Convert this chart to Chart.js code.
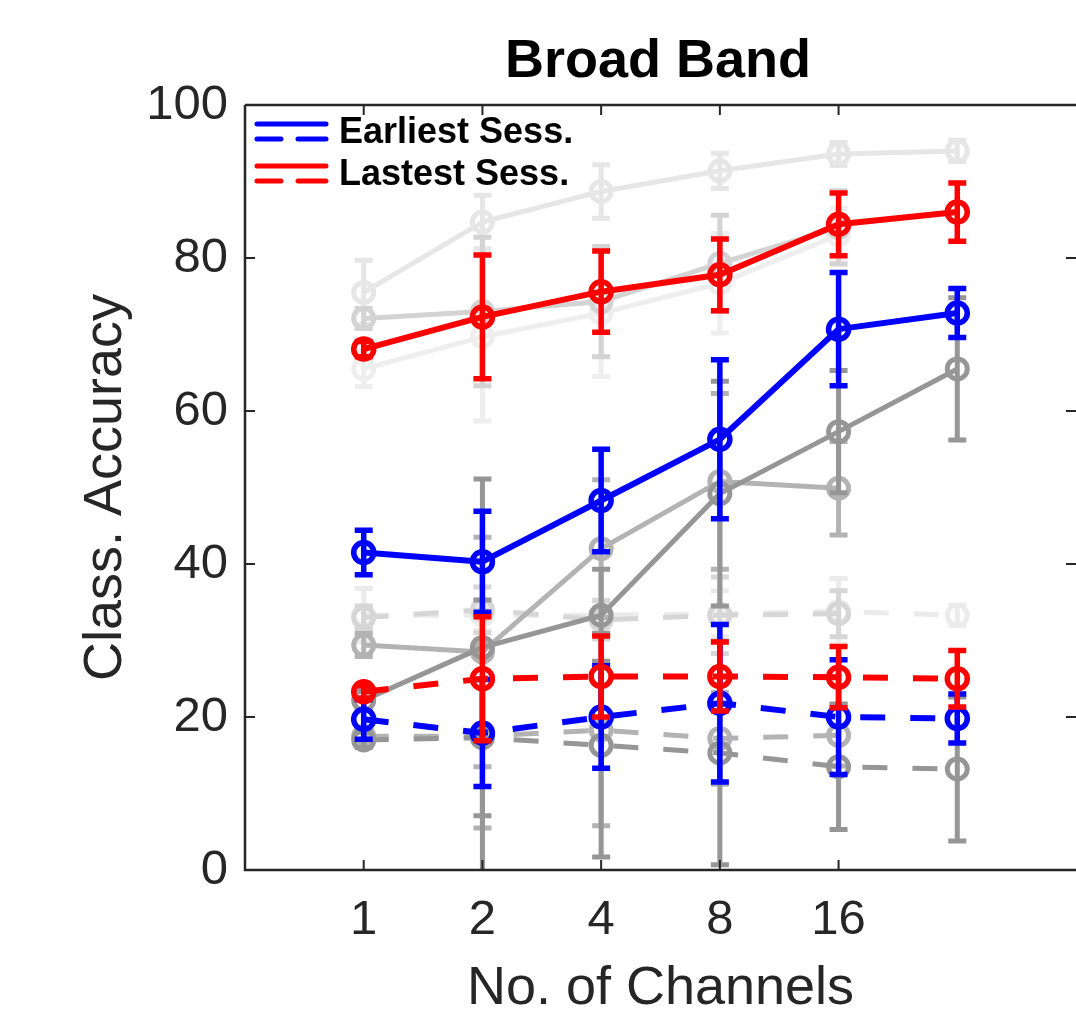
<!DOCTYPE html>
<html>
<head>
<meta charset="utf-8">
<script src="https://cdn.jsdelivr.net/npm/chart.js@4.4.1/dist/chart.umd.min.js"></script>
<style>
  html, body { margin: 0; padding: 0; background: #ffffff; }
  #wrap { width: 1076px; height: 1016px; }
</style>
</head>
<body>
<div id="wrap"><canvas id="c" width="1076" height="1016"></canvas></div>
<script>
// ---- data ----
const xPositions = [1, 2, 3, 4, 5, 6];
const tickLabels = ['1', '2', '4', '8', '16'];
const yTickValues = [0, 20, 40, 60, 80, 100];

// Earliest session (blue)
const earliestSolid     = [41.5, 40.3, 48.3, 56.3, 70.7, 72.8];
const earliestSolidErr  = [2.9, 6.6, 6.7, 10.4, 7.4, 3.2];
const earliestDashed    = [19.7, 17.9, 20.0, 21.8, 20.0, 19.8];
const earliestDashedErr = [2.6, 7.0, 6.7, 10.3, 7.5, 3.2];

// Lastest session (red)
const latestSolid     = [68.1, 72.3, 75.6, 77.8, 84.4, 86.0];
const latestSolidErr  = [1.0, 8.1, 5.3, 4.7, 4.1, 3.8];
const latestDashed    = [23.3, 25.0, 25.3, 25.3, 25.2, 25.0];
const latestDashedErr = [0.8, 8.1, 5.3, 4.5, 4.0, 3.7];

// Other subjects (grey)
const greyA = [75.5, 84.7, 88.7, 91.4, 93.6, 94.0];
const greyAErr = [4.2, 3.5, 3.5, 2.3, 1.5, 1.4];
const greyB = [72.1, 73.0, 74.3, 79.3, 84.0];
const greyBErr = [1.3, 9.7, 7.2, 6.3, 4.8];
const greyC = [65.5, 69.7, 72.8, 76.7, 83.0];
const greyCErr = [2.3, 11.0, 8.3, 6.5, 3.5];
const greyD = [29.4, 28.5, 42.0, 50.8, 49.9];
const greyDErr = [1.5, 15.0, 9.0, 11.5, 6.1];
const greyE = [22.2, 29.1, 33.3, 49.2, 57.3, 65.5];
const greyEErr = [1.2, 22.0, 6.0, 14.7, 8.0, 9.3];

const greyDashA = [33.3, 33.3, 33.3, 33.5, 33.8, 33.3];
const greyDashAErr = [3.5, 2.0, 2.0, 3.0, 4.3, 1.3];
const greyDashB = [33.0, 34.0, 32.7, 33.3, 33.5];
const greyDashBErr = [1.5, 3.0, 2.5, 5.0, 3.0];
const greyDashC = [17.5, 17.5, 18.3, 17.2, 17.6];
const greyDashCErr = [1.0, 12.0, 12.5, 6.0, 4.0];
const greyDashD = [17.0, 17.3, 16.3, 15.3, 13.5, 13.2];
const greyDashDErr = [1.0, 18.0, 14.6, 14.6, 8.2, 9.4];

const legendLabels = ['Earliest Sess.', 'Lastest Sess.'];

// ---- build datasets ----
const FONT = "'Liberation Sans', Arial, Helvetica, sans-serif";
const AXIS_COLOR = '#262626';

function pts(vals) { return vals.map((v, i) => ({ x: xPositions[i], y: v })); }
function series(vals, err, color, dashed, order, strong) {
  return {
    data: pts(vals),
    err: err,
    borderColor: color,
    backgroundColor: 'rgba(0,0,0,0)',
    pointBackgroundColor: 'rgba(0,0,0,0)',
    pointBorderColor: color,
    borderWidth: strong ? 6 : 5,
    errWidth: strong ? 5.5 : 5,
    borderDash: dashed ? [25, 25] : [],
    pointRadius: 10,
    pointBorderWidth: strong ? 5.5 : 5,
    pointHoverRadius: 10,
    tension: 0,
    fill: false,
    order: order
  };
}

const datasets = [
  series(latestSolid, latestSolidErr, '#ff0000', false, 0, true),
  series(latestDashed, latestDashedErr, '#ff0000', true, 1, true),
  series(earliestSolid, earliestSolidErr, '#0000ff', false, 2, true),
  series(earliestDashed, earliestDashedErr, '#0000ff', true, 3, true),
  series(greyE, greyEErr, '#969696', false, 4, false),
  series(greyDashD, greyDashDErr, '#969696', true, 5, false),
  series(greyD, greyDErr, '#b3b3b3', false, 6, false),
  series(greyDashC, greyDashCErr, '#b3b3b3', true, 7, false),
  series(greyB, greyBErr, '#d3d3d3', false, 8, false),
  series(greyDashB, greyDashBErr, '#d6d6d6', true, 9, false),
  series(greyA, greyAErr, '#e6e6e6', false, 10, false),
  series(greyC, greyCErr, '#eeeeee', false, 11, false),
  series(greyDashA, greyDashAErr, '#ebebeb', true, 12, false)
];

// ---- plugins ----
const errorBars = {
  id: 'errorBars',
  beforeDatasetDraw(chart, args) {
    const ds = chart.data.datasets[args.index];
    if (!ds.err) return;
    const { ctx, chartArea, scales } = chart;
    const xs = scales.x, ys = scales.y;
    ctx.save();
    ctx.beginPath();
    ctx.rect(chartArea.left, chartArea.top, chartArea.right - chartArea.left, chartArea.bottom - chartArea.top);
    ctx.clip();
    ctx.strokeStyle = ds.borderColor;
    ctx.lineWidth = ds.errWidth;
    ctx.lineCap = 'butt';
    ctx.setLineDash([]);
    const capHalf = 9;
    ds.data.forEach((p, i) => {
      const e = ds.err[i];
      if (p == null || p.y == null || e == null) return;
      const px = xs.getPixelForValue(p.x);
      const yl = ys.getPixelForValue(p.y - e);
      const yh = ys.getPixelForValue(p.y + e);
      ctx.beginPath();
      ctx.moveTo(px, yl); ctx.lineTo(px, yh);
      ctx.moveTo(px - capHalf, yl); ctx.lineTo(px + capHalf, yl);
      ctx.moveTo(px - capHalf, yh); ctx.lineTo(px + capHalf, yh);
      ctx.stroke();
    });
    ctx.restore();
  }
};

const frame = {
  id: 'frame',
  afterDraw(chart) {
    const { ctx, chartArea: a, scales } = chart;
    const xs = scales.x, ys = scales.y;
    ctx.save();
    ctx.strokeStyle = AXIS_COLOR;
    ctx.lineWidth = 2.5;
    ctx.setLineDash([]);
    ctx.beginPath();
    ctx.moveTo(a.left, a.top); ctx.lineTo(a.left, a.bottom); ctx.lineTo(a.right, a.bottom);
    ctx.moveTo(a.left, a.top); ctx.lineTo(a.right, a.top);
    ctx.stroke();
    ctx.lineWidth = 2;
    ctx.beginPath();
    const tl = 10;
    xs.ticks.forEach(t => {
      const px = xs.getPixelForValue(t.value);
      ctx.moveTo(px, a.bottom); ctx.lineTo(px, a.bottom - tl);
      ctx.moveTo(px, a.top); ctx.lineTo(px, a.top + tl);
    });
    ys.ticks.forEach(t => {
      const py = ys.getPixelForValue(t.value);
      ctx.moveTo(a.left, py); ctx.lineTo(a.left + tl, py);
      ctx.moveTo(a.right, py); ctx.lineTo(a.right - tl, py);
    });
    ctx.stroke();

    // title
    ctx.fillStyle = '#000000';
    ctx.font = 'bold 54px ' + FONT;
    ctx.textAlign = 'center';
    ctx.textBaseline = 'middle';
    ctx.fillText('Broad Band', 658, 62);

    // legend
    const colors = ['#0000ff', '#ff0000'];
    const rowsY = [132, 174];
    const lx0 = a.left + 12, lx1 = a.left + 81;
    ctx.lineCap = 'round';
    ctx.lineWidth = 5;
    legendLabels.forEach((lab, i) => {
      const yy = rowsY[i];
      ctx.strokeStyle = colors[i];
      ctx.beginPath();
      ctx.moveTo(lx0, yy - 8); ctx.lineTo(lx1, yy - 8);
      ctx.moveTo(lx0, yy + 7); ctx.lineTo(lx0 + 24, yy + 7);
      ctx.moveTo(lx0 + 41, yy + 7); ctx.lineTo(lx1, yy + 7);
      ctx.stroke();
      ctx.fillStyle = '#000000';
      ctx.font = 'bold 36px ' + FONT;
      ctx.textAlign = 'left';
      ctx.textBaseline = 'middle';
      ctx.fillText(lab, a.left + 94, yy + 1);
    });
    ctx.restore();
  }
};

const ctx = document.getElementById('c').getContext('2d');
new Chart(ctx, {
  type: 'line',
  data: { datasets: datasets },
  plugins: [errorBars, frame],
  options: {
    responsive: false,
    animation: false,
    devicePixelRatio: 1,
    layout: { autoPadding: false, padding: { top: 105, right: 0, left: 0, bottom: 0 } },
    plugins: {
      legend: { display: false },
      title: { display: false },
      tooltip: { enabled: false }
    },
    elements: { line: { borderCapStyle: 'butt', borderJoinStyle: 'round' } },
    scales: {
      x: {
        type: 'linear',
        min: 0,
        max: 7,
        afterBuildTicks(scale) {
          scale.ticks = tickLabels.map((_, i) => ({ value: xPositions[i] }));
        },
        afterFit(scale) { scale.height = 146; },
        grid: { display: false, drawTicks: false },
        border: { display: false },
        ticks: {
          autoSkip: false,
          maxRotation: 0,
          padding: 21,
          color: AXIS_COLOR,
          font: { family: FONT, size: 49 },
          callback(value) {
            const idx = xPositions.indexOf(value);
            return idx >= 0 && idx < tickLabels.length ? tickLabels[idx] : '';
          }
        },
        title: {
          display: true,
          text: 'No. of Channels',
          color: AXIS_COLOR,
          font: { family: FONT, size: 54, lineHeight: 1 },
          padding: { top: 0, bottom: 0 }
        }
      },
      y: {
        min: 0,
        max: 100,
        afterBuildTicks(scale) {
          scale.ticks = yTickValues.map(v => ({ value: v }));
        },
        afterFit(scale) { scale.width = 245; },
        grid: { display: false, drawTicks: false },
        border: { display: false },
        ticks: {
          padding: 17,
          color: AXIS_COLOR,
          font: { family: FONT, size: 49 }
        },
        title: {
          display: true,
          text: 'Class. Accuracy',
          color: AXIS_COLOR,
          font: { family: FONT, size: 54, lineHeight: 1 },
          padding: { top: 79, bottom: 0 }
        }
      }
    }
  }
});
</script>
</body>
</html>
